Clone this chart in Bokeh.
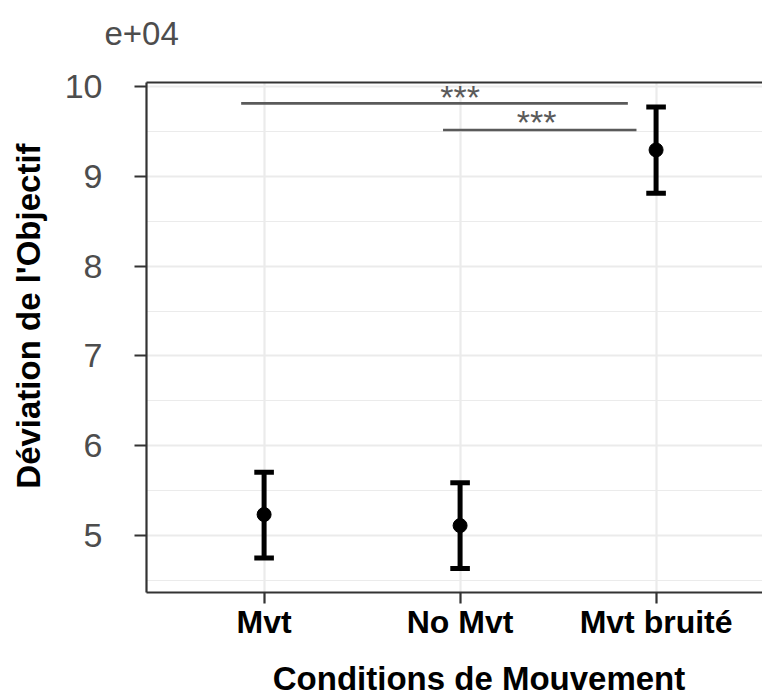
import numpy as np
from bokeh.plotting import figure
from bokeh.layouts import column, row
from bokeh.models import (Range1d, FixedTicker, LinearAxis, ColumnDataSource)
from bokeh.core.properties import value
from bokeh.embed import file_html
from bokeh.resources import INLINE

# ---- data (values in units of 1e4) ----
categories = ["Mvt", "No Mvt", "Mvt bruité"]
cat_pos = [1, 2, 3]
means = [5.234, 5.111, 9.294]
lower = [4.750, 4.632, 8.812]
upper = [5.705, 5.588, 9.772]

# significance comparisons (bar start, bar end, height) and labels
sig_x0 = [0.883, 1.913]
sig_x1 = [2.856, 2.900]
sig_y = [9.813, 9.516]
sig_text = ["***", "***"]
sig_tx = [2.0, 2.39]
sig_ty = [9.885, 9.60]

y_ticks = [5, 6, 7, 8, 9, 10]
y_minor = [4.5, 5.5, 6.5, 7.5, 8.5, 9.5]

x_title = "Conditions de Mouvement"
y_title = "Déviation de l'Objectif"
scale_note = "e+04"

FONT = "Liberation Sans"
W, H = 762, 698
HDR_H, FTR_H, LEFT_W = 62, 53, 56
MID_H = H - HDR_H - FTR_H
MAIN_W = W - LEFT_W
SHIFT = 12  # baseline correction of the svg text renderer


def blank(width, height):
    f = figure(width=width, height=height, output_backend="svg", toolbar_location=None,
               x_range=Range1d(0, width), y_range=Range1d(0, height),
               min_border=0, x_axis_type=None, y_axis_type=None,
               background_fill_color="white", border_fill_color="white")
    f.outline_line_color = None
    return f


# ---- main panel ----
p = figure(width=MAIN_W, height=MID_H, output_backend="svg", toolbar_location=None,
           x_range=Range1d(0.4, 3.543), y_range=Range1d(4.366, 10.045),
           min_border_left=146 - LEFT_W, min_border_right=0, min_border_top=82 - HDR_H,
           min_border_bottom=53, background_fill_color="white",
           border_fill_color="white")
p.outline_line_color = None

p.xgrid.ticker = FixedTicker(ticks=cat_pos)
p.ygrid.ticker = FixedTicker(ticks=y_ticks, minor_ticks=y_minor)
for g in (p.xgrid, p.ygrid):
    g.grid_line_color = "#ebebeb"
    g.grid_line_width = 2.2
p.ygrid.minor_grid_line_color = "#ebebeb"
p.ygrid.minor_grid_line_width = 1.1

xa = p.xaxis[0]
xa.ticker = FixedTicker(ticks=cat_pos)
xa.major_label_overrides = {c: lab for c, lab in zip(cat_pos, categories)}
xa.minor_tick_line_color = None
xa.major_tick_in = 0
xa.major_tick_out = 11
xa.major_label_standoff = 0
xa.major_label_text_font = FONT
xa.major_label_text_font_style = "bold"
xa.major_label_text_font_size = "32px"
xa.major_label_text_color = "black"

ya = p.yaxis[0]
ya.ticker = FixedTicker(ticks=y_ticks)
ya.minor_tick_line_color = None
ya.major_tick_in = 0
ya.major_tick_out = 12
ya.major_label_standoff = 32
ya.major_label_text_font = FONT
ya.major_label_text_font_size = "34px"
ya.major_label_text_color = "#4d4d4d"

for a in (xa, ya):
    a.axis_line_color = "#333333"
    a.axis_line_width = 2.2
    a.major_tick_line_color = "#333333"
    a.major_tick_line_width = 2.2

top = LinearAxis(ticker=FixedTicker(ticks=[]), axis_line_color="#333333",
                 axis_line_width=2.2, major_tick_out=0, major_tick_in=0,
                 minor_tick_out=0, minor_tick_in=0, major_label_standoff=0,
                 major_label_text_font_size="0px")
p.add_layout(top, "above")

src = ColumnDataSource(dict(x=cat_pos, m=means, lo=lower, hi=upper,
                            xl=[c - 0.05 for c in cat_pos], xr=[c + 0.05 for c in cat_pos]))
p.segment(x0="x", y0="lo", x1="x", y1="hi", source=src, line_color="black",
          line_width=5, line_cap="butt")
p.segment(x0="xl", y0="lo", x1="xr", y1="lo", source=src, line_color="black",
          line_width=5, line_cap="butt")
p.segment(x0="xl", y0="hi", x1="xr", y1="hi", source=src, line_color="black",
          line_width=5, line_cap="butt")
p.scatter(x="x", y="m", source=src, size=14, color="black")

p.segment(x0=sig_x0, y0=sig_y, x1=sig_x1, y1=sig_y, line_color="#5a5a5a",
          line_width=2.6, line_cap="butt")
p.text(x=sig_tx, y=sig_ty, text=sig_text, text_font=value(FONT),
       text_font_size="34px", text_color="#5a5a5a", text_align="center",
       text_baseline="alphabetic")

# ---- header: scale note ----
hdr = blank(W, HDR_H)
hdr.text(x=[104], y=[HDR_H - 45 + SHIFT], text=[scale_note], text_font=value(FONT),
         text_font_size="33px", text_color="#4d4d4d", text_align="left",
         text_baseline="alphabetic")

# ---- left: y title ----
lft = blank(LEFT_W, MID_H)
lft.text(x=[40 - SHIFT], y=[MID_H - (329 - HDR_H)], text=[y_title], angle=np.pi / 2,
         text_font=value(FONT), text_font_style="bold", text_font_size="33px",
         text_color="black", text_align="center", text_baseline="alphabetic")

# ---- footer: x title ----
ftr = blank(W, FTR_H)
ftr.text(x=[478.5], y=[H - 690 + SHIFT], text=[x_title], text_font=value(FONT),
         text_font_style="bold", text_font_size="33px", text_color="black",
         text_align="center", text_baseline="alphabetic")

layout = column(hdr, row(lft, p), ftr)
open("out.html", "w").write(file_html(layout, INLINE))
